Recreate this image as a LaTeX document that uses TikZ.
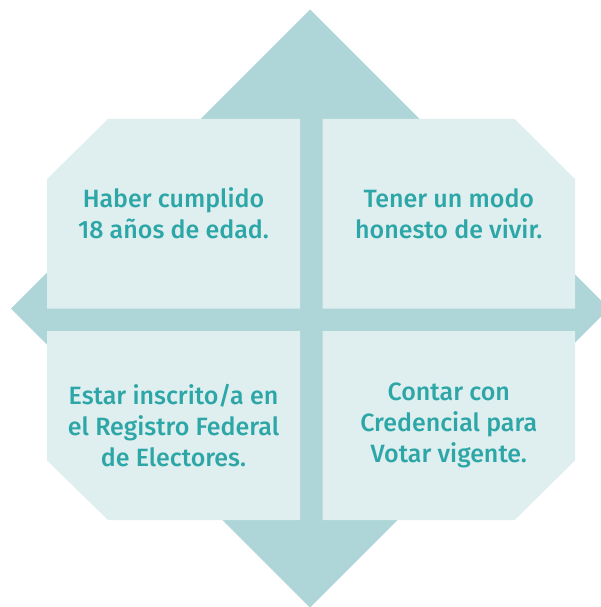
\documentclass[tikz,border=0pt]{standalone}
\usepackage{fontspec}
\newfontfamily\reqfont{Fira Sans Medium}
\definecolor{diamondteal}{HTML}{AED5D8}
\definecolor{boxpale}{HTML}{DFEEEF}
\definecolor{textteal}{HTML}{2CA6A6}

\begin{document}
\begin{tikzpicture}[x=1pt, y=-1pt, boxfill/.style={fill=boxpale, draw=none}, reqtext/.style={font=\reqfont\fontsize{25}{31}\selectfont, text=textteal, align=center, inner sep=0pt}]
				\useasboundingbox (0,0) rectangle (600,607);
				% diamond behind the four boxes
				\fill[diamondteal] (310,9.5) -- (609,308.5) -- (310,607.5) -- (11,308.5) -- cycle;
				% boxes, outer corner cut
				\fill[boxfill] (47,179) -- (108,119) -- (300,119) -- (300,308.5) -- (47,308.5) -- cycle;
				\fill[boxfill] (322.6,119) -- (514.7,119) -- (575,179) -- (575,308.5) -- (322.6,308.5) -- cycle;
				\fill[boxfill] (47,331) -- (300,331) -- (300,520) -- (108,520) -- (47,460.5) -- cycle;
				\fill[boxfill] (322.6,331) -- (575,331) -- (575,460.5) -- (514.7,520) -- (322.6,520) -- cycle;
				\node[reqtext] (edad) at (173.5,213.5) {Haber cumplido\\18 años de edad.};
				\node[reqtext] (honesto) at (448.8,213.5) {Tener un modo\\honesto de vivir.};
				\node[reqtext] (registro) at (173.5,425.5) {Estar inscrito/a en\\el Registro Federal\\de Electores.};
				\node[reqtext] (credencial) at (448.8,425.5) {Contar con\\Credencial para\\Votar vigente.};
			\end{tikzpicture}
\end{document}
